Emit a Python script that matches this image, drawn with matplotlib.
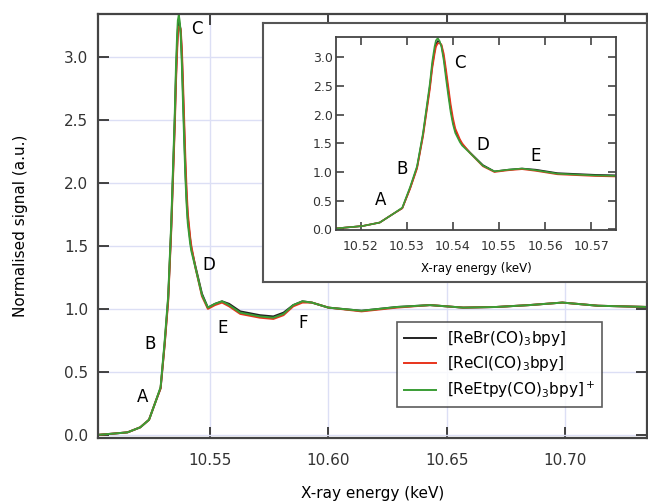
import numpy as np
import matplotlib.pyplot as plt

plt.rcParams["font.family"] = ["DejaVu Sans"]
plt.rcParams["mathtext.default"] = "regular"

# 能量 (keV) 与三条归一化谱线
energy = [10.5025, 10.509, 10.515, 10.5204, 10.5241, 10.527, 10.529, 10.5307,
          10.5322, 10.5335, 10.535, 10.5355, 10.536, 10.5363, 10.5367, 10.5371,
          10.5375, 10.538, 10.5385, 10.539, 10.5395, 10.540, 10.5405, 10.5415,
          10.542, 10.5437, 10.5465, 10.549, 10.552, 10.555, 10.558,
          10.5627, 10.571, 10.5767, 10.581, 10.5851, 10.589, 10.593, 10.600,
          10.614, 10.629, 10.643, 10.657, 10.671, 10.685, 10.699, 10.714, 10.735]
rebr = [0.00, 0.01, 0.02, 0.06, 0.12, 0.27, 0.37, 0.72,
        1.08, 1.65, 2.50, 2.85, 3.10, 3.22, 3.28, 3.26,
        3.20, 3.00, 2.70, 2.40, 2.10, 1.88, 1.72, 1.55,
        1.48, 1.34, 1.12, 1.01, 1.04, 1.06, 1.04,
        0.98, 0.95, 0.94, 0.97, 1.03, 1.06, 1.05, 1.01,
        0.985, 1.015, 1.03, 1.01, 1.015, 1.03, 1.05, 1.025, 1.015]
recl = [0.00, 0.01, 0.02, 0.06, 0.12, 0.27, 0.37, 0.71,
        1.06, 1.62, 2.45, 2.80, 3.05, 3.18, 3.24, 3.24,
        3.22, 3.06, 2.78, 2.48, 2.18, 1.94, 1.76, 1.57,
        1.50, 1.33, 1.10, 1.00, 1.03, 1.05, 1.02,
        0.96, 0.93, 0.92, 0.95, 1.02, 1.05, 1.05, 1.01,
        0.98, 1.01, 1.03, 1.01, 1.015, 1.03, 1.05, 1.025, 1.015]
reetpy = [0.00, 0.01, 0.02, 0.06, 0.12, 0.27, 0.38, 0.74,
          1.10, 1.68, 2.55, 2.92, 3.18, 3.29, 3.33, 3.28,
          3.18, 2.94, 2.62, 2.32, 2.04, 1.83, 1.68, 1.52,
          1.46, 1.33, 1.11, 1.01, 1.04, 1.06, 1.03,
          0.97, 0.94, 0.93, 0.96, 1.03, 1.06, 1.05, 1.01,
          0.985, 1.015, 1.03, 1.01, 1.015, 1.03, 1.05, 1.025, 1.015]

labels = [r"[ReBr(CO)$_3$bpy]", r"[ReCl(CO)$_3$bpy]", r"[ReEtpy(CO)$_3$bpy]$^+$"]
colors = ["#222222", "#e8341c", "#3a9d35"]

main_marks = [("A", 10.5215, 0.3), ("B", 10.5245, 0.72), ("C", 10.5442, 3.22),
              ("D", 10.5492, 1.35), ("E", 10.5552, 0.85), ("F", 10.5892, 0.89)]
inset_marks = [("A", 10.5243, 0.52), ("B", 10.5289, 1.06), ("C", 10.5415, 2.9),
               ("D", 10.5465, 1.47), ("E", 10.5579, 1.27)]

fig = plt.figure(figsize=(6.48, 5.01), dpi=100)

# 主图
ax = fig.add_axes([0.1512, 0.1257, 0.848, 0.8463])
for y, c, l in zip([rebr, recl, reetpy], colors, labels):
    ax.plot(energy, y, color=c, lw=1.4, label=l)
ax.set_xlim(10.5025, 10.735)
ax.set_ylim(-0.025, 3.34)
ax.set_xticks([10.55, 10.60, 10.65, 10.70])
ax.set_yticks([0.0, 0.5, 1.0, 1.5, 2.0, 2.5, 3.0])
ax.xaxis.set_major_formatter(plt.FormatStrFormatter("%.2f"))
ax.yaxis.set_major_formatter(plt.FormatStrFormatter("%.1f"))
ax.tick_params(direction="in", length=8, width=1.3, top=True, right=True,
               labelsize=11, colors="#333333", pad=7)
ax.tick_params(axis="x", pad=11)
ax.grid(True, color="#dcdff5", lw=1)
for s in ax.spines.values():
    s.set_color("#444444")
    s.set_linewidth(1.6)
ax.set_xlabel("X-ray energy (keV)", fontsize=11, labelpad=13)
ax.set_ylabel("Normalised signal (a.u.)", fontsize=11, labelpad=26)
for t, x, y in main_marks:
    ax.text(x, y, t, fontsize=12, ha="center", va="center")

leg = ax.legend(loc="upper left", bbox_to_anchor=(0.6127, 0.3573),
                bbox_transform=fig.transFigure, fontsize=11, frameon=True,
                fancybox=False, edgecolor="#333333", borderaxespad=0,
                handlelength=2.1, handletextpad=0.7, labelspacing=0.42,
                borderpad=0.45)
leg.get_frame().set_linewidth(1.2)

# 插图外框
frame = fig.add_axes([0.4059, 0.4371, 0.5926, 0.517])
frame.set_xticks([])
frame.set_yticks([])
for s in frame.spines.values():
    s.set_color("#555555")
    s.set_linewidth(1.5)

# 插图
ins = fig.add_axes([0.5185, 0.5409, 0.4321, 0.3852])
for y, c in zip([rebr, recl, reetpy], colors):
    ins.plot(energy, y, color=c, lw=1.2)
ins.set_xlim(10.5146, 10.5754)
ins.set_ylim(-0.01, 3.35)
ins.set_xticks([10.52, 10.53, 10.54, 10.55, 10.56, 10.57])
ins.set_yticks([0.0, 0.5, 1.0, 1.5, 2.0, 2.5, 3.0])
ins.xaxis.set_major_formatter(plt.FormatStrFormatter("%.2f"))
ins.yaxis.set_major_formatter(plt.FormatStrFormatter("%.1f"))
ins.tick_params(direction="in", length=6, width=1.1, top=True, right=True,
                labelsize=9, colors="#333333")
ins.tick_params(axis="y", pad=2.5)
ins.tick_params(axis="x", pad=7)
for s in ins.spines.values():
    s.set_color("#444444")
    s.set_linewidth(1.3)
ins.set_xlabel("X-ray energy (keV)", fontsize=8.5, labelpad=7)
for t, x, y in inset_marks:
    ins.text(x, y, t, fontsize=12, ha="center", va="center")

fig.savefig("out.png", dpi=100)
